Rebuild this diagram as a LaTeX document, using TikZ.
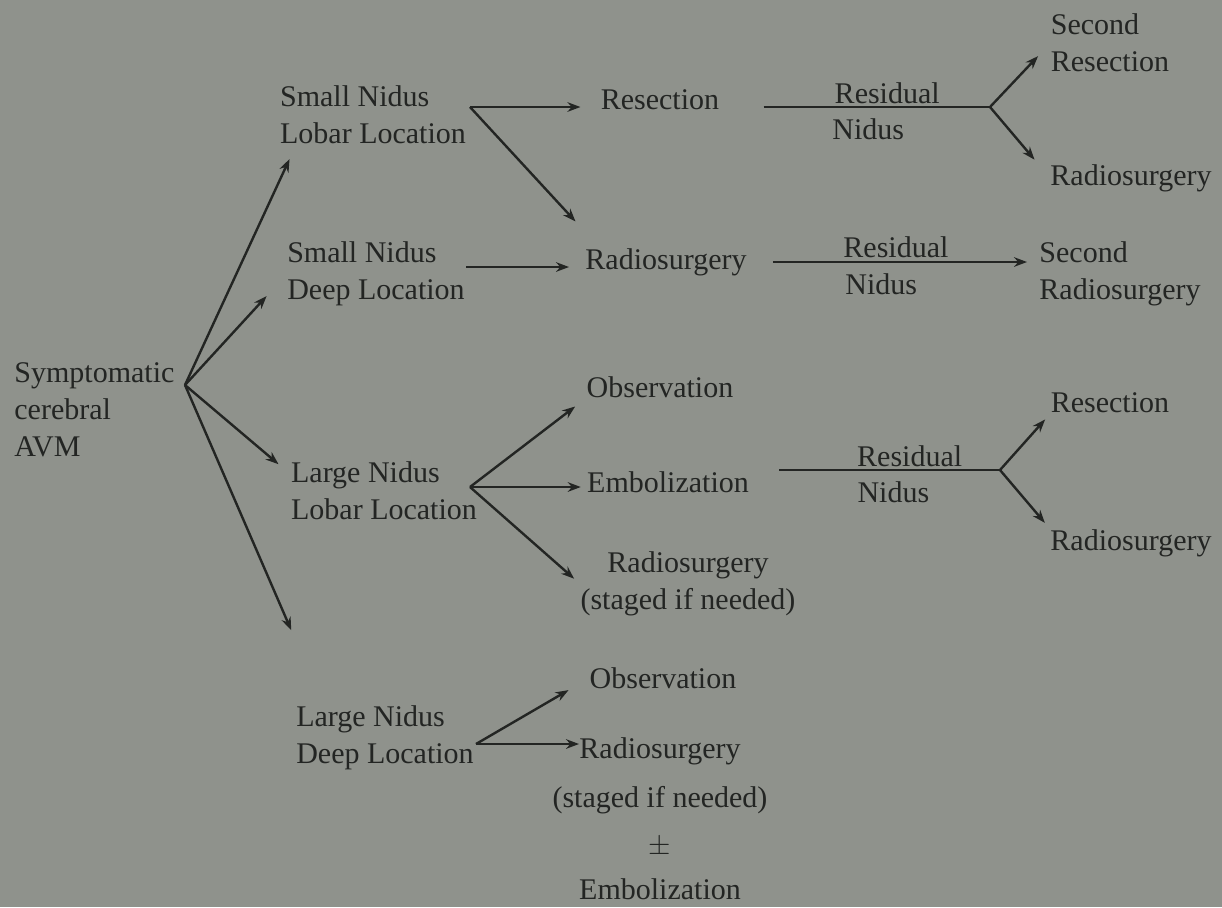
\documentclass[tikz,border=0pt]{standalone}
\usepackage{fontspec}
\setmainfont{Liberation Serif}
\usetikzlibrary{arrows.meta,positioning}
\definecolor{paper}{HTML}{8F928C}
\definecolor{ink}{HTML}{232523}

\begin{document}
\begin{tikzpicture}[x=0.5pt,y=-0.5pt,
  font=\fontsize{15}{18.5}\selectfont, text=ink,
  box/.style={align=left, inner sep=0pt},
  mid/.style={align=center, inner sep=0pt},
  stem/.style={draw=ink, line width=1.2pt},
  arr/.style={stem, -{Stealth[length=6.5pt,width=4.8pt]}}]

% Paper
\fill[paper] (0,0) rectangle (1222,907);

% Start of the tree
\node[box, anchor=west] (avm) at (14,410) {Symptomatic\\cerebral\\AVM};
\coordinate (f0) at (185,385);

% Size and location of the nidus
\node[box] (slobar) at (373,115) {Small Nidus\\Lobar Location};
\node[box] (sdeep) at (376,274) {Small Nidus\\Deep Location};
\node[box] (llobar) at (384,491) {Large Nidus\\Lobar Location};
\node[box] (ldeep) at (385,738) {Large Nidus\\Deep Location};

\draw[arr, shorten >=8pt] (f0) -- (slobar.201);
\draw[arr, shorten >=15pt] (f0) -- (sdeep.west);
\draw[arr, shorten >=8pt] (f0) -- (llobar.170);
\draw[arr, shorten >=41pt] (f0) -- (ldeep.152);

% Small nidus, lobar location
\coordinate (f1) at (470,107);
\node[mid] (resec1) at (660,100) {Resection};
\node[mid] (rad1) at (666,262) {Radiosurgery};
\draw[arr, shorten >=10pt] (f1) -- (f1 -| resec1.west);
\draw[arr, shorten >=18pt] (f1) -- (rad1.168);

% Residual nidus after resection
\coordinate (j1) at (990,107);
\node[box] (secres) at (1110,43) {Second\\Resection};
\node[mid] (rad2) at (1131,178) {Radiosurgery};
\draw[stem, shorten <=22pt] (resec1.east |- j1) -- (j1)
  node[pos=0.62, above, inner sep=1pt] (resid1) {Residual}
  node[pos=0.55, below, inner sep=5pt] (nidus1) {Nidus};
\draw[arr, shorten >=9pt] (j1) -- (secres.west);
\draw[arr, shorten >=12pt] (j1) -- (rad2.west);

% Small nidus, deep location
\coordinate (f2) at (466,267);
\node[box] (secrad) at (1120,274) {Second\\Radiosurgery};
\draw[arr, shorten >=8pt] (f2) -- (f2 -| rad1.west);
\draw[arr, shorten <=13pt, shorten >=6pt] (rad1.east) -- (rad1.east -| secrad.west)
  node[pos=0.51, above, inner sep=1.5pt] (resid2) {Residual}
  node[pos=0.46, below, inner sep=5pt] (nidus2) {Nidus};

% Large nidus, lobar location
\coordinate (f3) at (470,487);
\node[mid] (obs1) at (660,387) {Observation};
\node[mid] (emb1) at (668,482) {Embolization};
\node[mid] (rad3) at (688,584) {Radiosurgery\\(staged if needed)};
\draw[arr, shorten >=7pt] (f3) -- (obs1.south west);
\draw[arr, shorten >=3pt] (f3) -- (f3 -| emb1.west);
\draw[arr, shorten >=4pt] (f3) -- (rad3.west);

% Residual nidus after embolization
\coordinate (j3) at (1000,470);
\node[mid] (resec3) at (1110,403) {Resection};
\node[mid] (rad4) at (1131,543) {Radiosurgery};
\draw[stem, shorten <=15pt] (emb1.east |- j3) -- (j3)
  node[pos=0.64, above, inner sep=1pt] (resid3) {Residual}
  node[pos=0.575, below, inner sep=5pt] (nidus3) {Nidus};
\draw[arr, shorten >=4pt] (j3) -- (resec3.south west);
\draw[arr, shorten >=4pt] (j3) -- (rad4.north west);

% Large nidus, deep location
\coordinate (f4) at (476,744);
\node[mid] (obs2) at (663,678) {Observation};
\node[mid] (rad5) at (660,751) {Radiosurgery};
\node[mid, below=10.5pt of rad5] (rad5x)
  {(staged if needed)\\[5pt]$\pm$\\[4pt]Embolization};
\draw[arr, shorten >=12pt] (f4) -- (obs2.west);
\draw[arr, shorten >=0pt] (f4) -- (f4 -| rad5.west);

\end{tikzpicture}
\end{document}
